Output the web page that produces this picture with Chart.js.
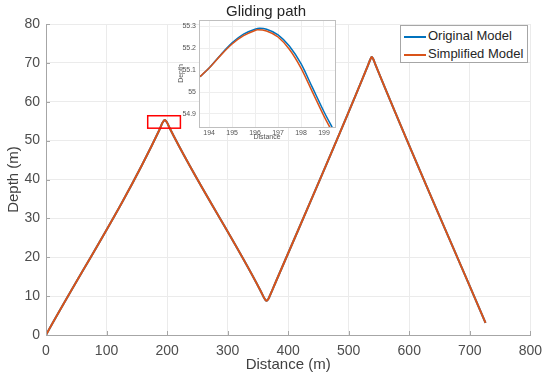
<!DOCTYPE html>
<html>
<head>
<meta charset="utf-8">
<script src="https://cdn.jsdelivr.net/npm/chart.js@4/dist/chart.umd.min.js"></script>
<style>
body { margin: 0; background: #fff; }
#wrap { position: relative; width: 550px; height: 382px; }
#main { position: absolute; left: 0; top: 0; }
#inset { position: absolute; left: 168px; top: 12px; }
#legend {
    position: absolute; left: 400px; top: 25px; width: 126px; height: 36px;
    border: 1px solid #a6a6a6; background: #fff;
    font: 13px "Liberation Sans", Arial, sans-serif; color: #262626;
}
#legend div { height: 17px; line-height: 17px; margin-top: 1px; white-space: nowrap; }
#legend span { display: inline-block; width: 22px; height: 2px; vertical-align: middle; margin: 0 2px 0 3px; }
</style>
</head>
<body>
<div id="wrap">
    <canvas id="main" width="550" height="382"></canvas>
    <canvas id="inset" width="172" height="134"></canvas>
    <div id="legend">
        <div><span style="background:#0072BD"></span>Original Model</div>
        <div><span style="background:#D95319"></span>Simplified Model</div>
    </div>
</div>
<script>
const FONT = '"Liberation Sans", Arial, sans-serif';
const BLUE = '#0072BD';
const ORANGE = '#D95319';

// Chemin complet (m)
const distance = [0, 188, 192, 194.5, 196.2, 198, 200.5, 204, 355, 359, 362, 364.5, 367, 370, 375, 532, 535.5, 538, 540.5, 544, 726];
const depthOriginal = [0, 53.0, 54.5, 55.1, 55.31, 55.1, 54.5, 53.3, 11.2, 9.9, 9.1, 8.8, 9.2, 10.2, 12.0, 69.4, 70.8, 71.5, 71.0, 69.6, 3.1];
const depthSimplified = [0, 53.0, 54.5, 55.1, 55.3, 55.1, 54.5, 53.3, 11.2, 9.9, 9.1, 8.8, 9.2, 10.2, 12.0, 69.4, 70.8, 71.5, 71.0, 69.6, 3.1];
const xTicks = [0, 100, 200, 300, 400, 500, 600, 700, 800];
const yTicks = [0, 10, 20, 30, 40, 50, 60, 70, 80];
// Zone agrandie (x1, x2, y1, y2)
const zoomBox = [168, 222, 53.2, 56.4];

// Zoom sur le premier sommet
const insetDistOriginal = [193.6, 194.0, 194.5, 195.0, 195.5, 196.0, 196.2, 196.5, 197.0, 197.5, 198.0, 198.5, 199.0, 199.4];
const insetDepthOriginal = [55.07, 55.11, 55.17, 55.225, 55.265, 55.288, 55.292, 55.288, 55.262, 55.21, 55.13, 55.02, 54.91, 54.83];
const insetDistSimplified = [193.6, 194.0, 194.5, 195.0, 195.5, 196.0, 196.1, 196.5, 197.0, 197.5, 198.0, 198.5, 199.0, 199.3];
const insetDepthSimplified = [55.07, 55.11, 55.168, 55.22, 55.258, 55.282, 55.285, 55.28, 55.252, 55.195, 55.11, 55.0, 54.89, 54.83];
const insetXTicks = [194, 195, 196, 197, 198, 199];
const insetYTicks = [54.9, 55, 55.1, 55.2, 55.3];

function points(xs, ys) { return xs.map((x, i) => ({ x: x, y: ys[i] })); }

// petits traits vers l'intérieur + rectangle rouge
const mainExtras = {
    id: 'mainExtras',
    afterDatasetsDraw(chart) {
        const { ctx, chartArea: a, scales: { x, y } } = chart;
        ctx.save();
        ctx.strokeStyle = '#a6a6a6';
        ctx.lineWidth = 1;
        ctx.beginPath();
        xTicks.forEach(v => { const px = Math.round(x.getPixelForValue(v)) + 0.5; ctx.moveTo(px, a.bottom); ctx.lineTo(px, a.bottom - 4); });
        yTicks.forEach(v => { const py = Math.round(y.getPixelForValue(v)) + 0.5; ctx.moveTo(a.left, py); ctx.lineTo(a.left + 4, py); });
        ctx.stroke();
        ctx.strokeStyle = '#ff0000';
        ctx.lineWidth = 1.5;
        const x1 = x.getPixelForValue(zoomBox[0]), x2 = x.getPixelForValue(zoomBox[1]);
        const y1 = y.getPixelForValue(zoomBox[2]), y2 = y.getPixelForValue(zoomBox[3]);
        ctx.strokeRect(x1, y2, x2 - x1, y1 - y2);
        ctx.restore();
    }
};

const insetFrame = {
    id: 'insetFrame',
    beforeDraw(chart) {
        const { ctx, chartArea: a } = chart;
        ctx.save();
        ctx.fillStyle = '#fff';
        ctx.fillRect(a.left, a.top, a.right - a.left, a.bottom - a.top);
        ctx.restore();
    },
    afterDraw(chart) {
        const { ctx, chartArea: a } = chart;
        ctx.save();
        ctx.strokeStyle = '#bfbfbf';
        ctx.lineWidth = 1;
        ctx.strokeRect(Math.round(a.left) + 0.5, Math.round(a.top) + 0.5, Math.round(a.right - a.left), Math.round(a.bottom - a.top));
        ctx.restore();
    }
};

new Chart(document.getElementById('main'), {
    type: 'line',
    data: {
        datasets: [
            { label: 'Original Model', data: points(distance, depthOriginal), borderColor: BLUE, borderWidth: 2, pointRadius: 0, cubicInterpolationMode: 'monotone', order: 1 },
            { label: 'Simplified Model', data: points(distance, depthSimplified), borderColor: ORANGE, borderWidth: 2, pointRadius: 0, cubicInterpolationMode: 'monotone', order: 0 }
        ]
    },
    options: {
        responsive: false,
        animation: false,
        layout: { padding: { top: 0, right: 18, left: 0, bottom: 0 } },
        plugins: {
            legend: { display: false },
            tooltip: { enabled: false },
            title: { display: true, text: 'Gliding path', color: '#262626', font: { size: 15, family: FONT, weight: 'normal' }, padding: { top: 3, bottom: 3 } }
        },
        scales: {
            x: {
                type: 'linear', min: 0, max: 800,
                afterBuildTicks: s => { s.ticks = xTicks.map(v => ({ value: v })); },
                afterFit: s => { s.height = 47; },
                grid: { color: '#ebebeb', drawTicks: false },
                border: { color: '#a6a6a6' },
                ticks: { padding: 8, color: '#4d4d4d', font: { size: 14, family: FONT }, maxRotation: 0, autoSkip: false },
                title: { display: true, text: 'Distance (m)', color: '#404040', font: { size: 15, family: FONT }, padding: { top: 0, bottom: 8 } }
            },
            y: {
                type: 'linear', min: 0, max: 80,
                afterBuildTicks: s => { s.ticks = yTicks.map(v => ({ value: v })); },
                afterFit: s => { s.width = 46; },
                grid: { color: '#ebebeb', drawTicks: false },
                border: { color: '#a6a6a6' },
                ticks: { padding: 6, color: '#4d4d4d', font: { size: 14, family: FONT }, autoSkip: false },
                title: { display: true, text: 'Depth (m)', color: '#404040', font: { size: 15, family: FONT }, padding: { top: 5, bottom: 0 } }
            }
        }
    },
    plugins: [mainExtras]
});

new Chart(document.getElementById('inset'), {
    type: 'line',
    data: {
        datasets: [
            { label: 'Original Model', data: points(insetDistOriginal, insetDepthOriginal), borderColor: BLUE, borderWidth: 1.5, pointRadius: 0, cubicInterpolationMode: 'monotone', order: 1 },
            { label: 'Simplified Model', data: points(insetDistSimplified, insetDepthSimplified), borderColor: ORANGE, borderWidth: 1.5, pointRadius: 0, cubicInterpolationMode: 'monotone', order: 0 }
        ]
    },
    options: {
        responsive: false,
        animation: false,
        layout: { padding: { top: 8, right: 5, left: 0, bottom: 0 } },
        plugins: { legend: { display: false }, tooltip: { enabled: false }, title: { display: false } },
        scales: {
            x: {
                type: 'linear', min: 193.56, max: 199.48,
                afterBuildTicks: s => { s.ticks = insetXTicks.map(v => ({ value: v })); },
                afterFit: s => { s.height = 19; },
                grid: { color: '#eeeeee', drawTicks: false },
                border: { display: false },
                ticks: { padding: 2, color: '#555', font: { size: 7, family: FONT }, maxRotation: 0, autoSkip: false },
                title: { display: true, text: 'Distance', color: '#555', font: { size: 7, family: FONT }, padding: { top: 0, bottom: 5 } }
            },
            y: {
                type: 'linear', min: 54.84, max: 55.33,
                afterBuildTicks: s => { s.ticks = insetYTicks.map(v => ({ value: v })); },
                afterFit: s => { s.width = 31; },
                grid: { color: '#eeeeee', drawTicks: false },
                border: { display: false },
                ticks: { padding: 3, color: '#555', font: { size: 7, family: FONT }, autoSkip: false, callback: v => String(v) },
                title: { display: true, text: 'Depth', color: '#555', font: { size: 7, family: FONT }, padding: { top: 9, bottom: 0 } }
            }
        }
    },
    plugins: [insetFrame]
});
</script>
</body>
</html>
